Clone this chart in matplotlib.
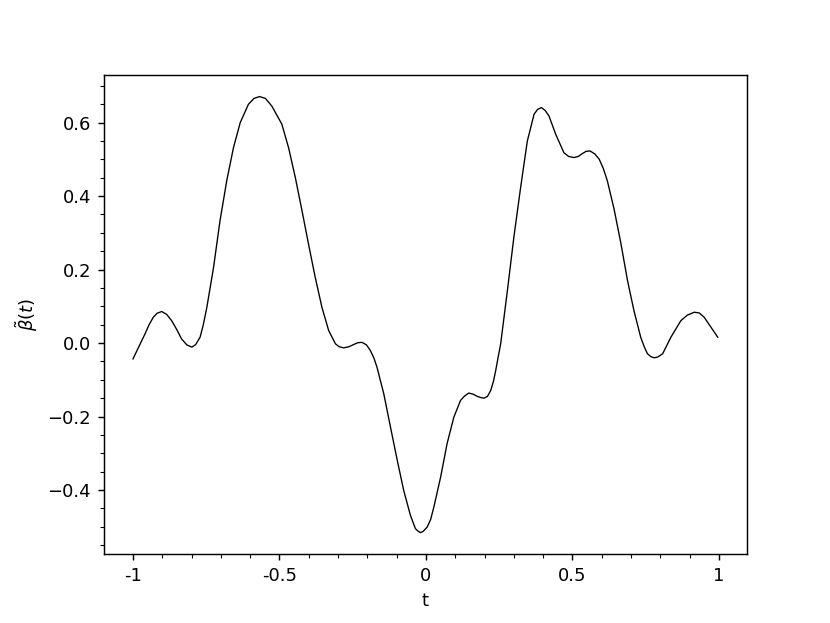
import matplotlib
matplotlib.use("Agg")
import matplotlib.pyplot as plt
from matplotlib.ticker import MultipleLocator

# valores
t = [-1.0, -0.959, -0.945, -0.931, -0.918, -0.902, -0.885, -0.868, -0.850, -0.834,
     -0.816, -0.799, -0.786, -0.771, -0.760, -0.748, -0.725, -0.703, -0.680, -0.657,
     -0.634, -0.606, -0.587, -0.568, -0.548, -0.526, -0.492, -0.469, -0.446, -0.423,
     -0.401, -0.378, -0.355, -0.332, -0.309, -0.296, -0.281, -0.263, -0.247, -0.233,
     -0.218, -0.203, -0.190, -0.178, -0.167, -0.144, -0.121, -0.098, -0.076, -0.053,
     -0.036, -0.027, -0.019, -0.009, 0.004, 0.016, 0.027, 0.050, 0.072, 0.095,
     0.118, 0.132, 0.146, 0.161, 0.175, 0.186, 0.198, 0.210, 0.221, 0.230,
     0.238, 0.246, 0.255, 0.278, 0.300, 0.323, 0.346, 0.369, 0.381, 0.394,
     0.407, 0.420, 0.443, 0.471, 0.487, 0.505, 0.520, 0.534, 0.547, 0.560,
     0.576, 0.591, 0.605, 0.619, 0.642, 0.665, 0.688, 0.710, 0.733, 0.745,
     0.756, 0.768, 0.779, 0.791, 0.808, 0.836, 0.870, 0.892, 0.916, 0.933,
     0.950, 0.996]
beta = [-0.043, 0.025, 0.050, 0.070, 0.081, 0.086, 0.078, 0.061, 0.036, 0.011,
        -0.005, -0.011, -0.004, 0.016, 0.050, 0.097, 0.206, 0.333, 0.442, 0.532,
        0.600, 0.650, 0.666, 0.671, 0.666, 0.645, 0.596, 0.532, 0.451, 0.360,
        0.270, 0.179, 0.097, 0.034, -0.002, -0.010, -0.013, -0.010, -0.004, 0.001,
        0.002, -0.005, -0.020, -0.040, -0.066, -0.138, -0.229, -0.319, -0.401, -0.469,
        -0.505, -0.512, -0.516, -0.512, -0.501, -0.480, -0.446, -0.365, -0.274, -0.202,
        -0.156, -0.144, -0.136, -0.139, -0.145, -0.148, -0.150, -0.145, -0.129, -0.105,
        -0.075, -0.040, -0.002, 0.143, 0.288, 0.423, 0.550, 0.623, 0.636, 0.641,
        0.633, 0.618, 0.568, 0.518, 0.508, 0.505, 0.508, 0.516, 0.522, 0.523,
        0.515, 0.501, 0.476, 0.442, 0.365, 0.273, 0.170, 0.088, 0.016, -0.010,
        -0.029, -0.037, -0.040, -0.038, -0.029, 0.016, 0.061, 0.076, 0.084, 0.082,
        0.070, 0.016]

xticks = [-1, -0.5, 0, 0.5, 1]
xticklabels = ["-1", "-0.5", "0", "0.5", "1"]

fig, ax = plt.subplots(figsize=(830 / 130, 623 / 130), dpi=130)

ax.plot(t, beta, color="k", linewidth=0.75, solid_joinstyle="round")

ax.set_xticks(xticks)
ax.set_xticklabels(xticklabels)
ax.xaxis.set_minor_locator(MultipleLocator(0.1))
ax.yaxis.set_minor_locator(MultipleLocator(0.05))

ax.set_xlabel("t")
ax.set_ylabel(r"$\tilde{\beta}(t)$")

plt.savefig("out.png", dpi=130)
